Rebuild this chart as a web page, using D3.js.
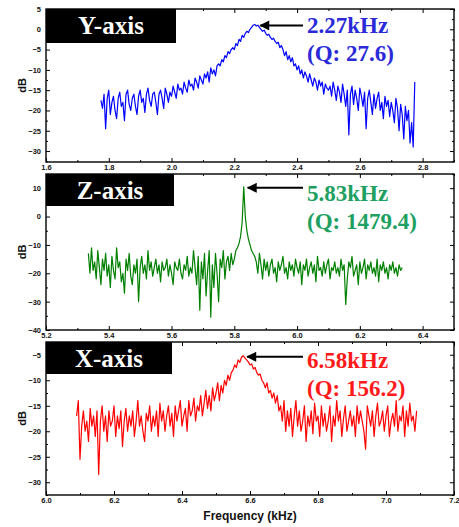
<!DOCTYPE html>
<html>
<head>
<meta charset="utf-8">
<script src="https://cdn.jsdelivr.net/npm/d3@7"></script>
<style>
  html, body { margin: 0; padding: 0; background: #fff; }
  svg { display: block; }
  .tick-label { font-family: "Liberation Sans", Arial, sans-serif; font-weight: bold; font-size: 7.5px; fill: #111; }
  .axis-title { font-family: "Liberation Sans", Arial, sans-serif; font-weight: bold; fill: #111; }
  .serif { font-family: "Liberation Serif", "Times New Roman", serif; font-weight: bold; }
</style>
</head>
<body>
<svg id="chart" width="459" height="527"></svg>
<script>
// ---- Frequency response data (dB), sampled on a uniform frequency grid ----

// Y-axis sweep: 1.775 .. 2.775 kHz
const yAxisFreqRange = [1.775, 2.775];
const yAxisDb = [
  -17.5, -19.5, -16, -24.5, -17, -15, -21, -18, -16.5, -20, -22, -17, -15.5, -19, -18, -22.5, -16, -15, -18.5, -20,
  -17, -16, -19, -21, -16.5, -15, -18, -17, -20.5, -16, -14.5, -17.5, -19, -16, -15.5, -18, -21, -16, -15, -17,
  -19.5, -14.5, -16, -18, -15.5,
  -16.5, -14, -15.5, -17, -13.5, -15, -14.5, -16, -13, -14.5, -15.5, -12.5, -14, -13.5, -15, -12, -13, -14.5, -11.5, -12.5,
  -13.5, -11, -12, -10.5, -13, -9.5, -11, -10, -11.5, -9,
  -8.5, -9, -7.5, -8, -6.5, -7, -5.5, -6, -5, -4.5, -5, -3.5, -4, -2.5, -3, -1.5, -2, -1, -0.5, -0.8, 0, 0.5, 1, 1.2,
  0.8, 1, 0.5, 0, -0.5, -0.2, -1, -1.5, -1.2, -2, -2.5, -2.2, -3, -3.5, -3.2, -4.5, -4,
  -5, -6.5, -5.5, -7.5, -6.5, -8, -7, -9, -8.5, -10, -9, -11, -10, -12, -10.5, -11.5, -13, -11, -12.5, -14,
  -12, -13, -15, -12.5, -14, -13, -16, -13.5, -14.5, -15,
  -14, -16.5, -13, -15, -17.5, -14, -15.5, -18, -13.5, -16, -19, -15, -26, -16, -14, -18.5, -15, -17, -20, -14.5,
  -16.5, -19, -15.5, -24.5, -17, -15, -18, -21, -16, -19.5, -17, -15.5, -20, -18, -22, -16.5, -19, -17.5, -21.5, -18,
  -20, -23, -17, -19.5, -25, -18.5, -21, -27, -19, -22.5, -20, -28, -23, -29, -13
];

// Z-axis sweep: 5.335 .. 6.335 kHz
const zAxisFreqRange = [5.335, 6.335];
const zAxisDb = [
  -13, -20, -11, -19, -16, -22, -12, -18, -24, -15, -19, -13, -21, -17, -25, -14, -19, -22, -11, -18,
  -16, -23, -20, -27, -15, -19, -13, -21, -24, -17, -20, -15, -30,
  -18, -14, -20, -17, -22, -12, -19, -16, -21, -18, -15, -20, -17, -23, -16, -19, -18, -15, -21, -17,
  -20, -24, -16, -18, -19, -15, -20, -22, -17, -19, -14, -21, -18, -20,
  -12, -18, -24, -14, -33, -16, -22, -13, -28, -19, -12, -35.5, -17, -25, -13, -20, -30, -15, -18, -12,
  -22, -16, -14, -19, -13, -17, -15, -12, -11,
  -9.5, -7, -2, 10.5, 0, -5, -8, -10, -12, -13,
  -14, -16, -20, -13, -17, -22, -15, -19, -16, -21, -17, -15, -20, -18, -23, -16, -19, -17, -14, -20,
  -18, -22, -16, -19, -17, -21, -15, -18, -20, -16, -24, -17, -19, -15, -21, -18, -16, -20, -17, -23,
  -14, -19, -18, -21, -16, -20, -17, -15, -22, -18, -19, -16, -20, -18, -21, -15, -19, -17, -31, -22,
  -16, -18, -14, -21, -19, -17, -24, -16, -20, -18, -15, -22, -17, -19, -16, -20, -18, -21, -15, -23,
  -17, -19, -16, -20, -18, -22, -17, -19, -16, -20, -18, -21, -17, -19, -18
];

// X-axis sweep: 6.09 .. 7.09 kHz
const xAxisFreqRange = [6.09, 7.09];
const xAxisDb = [
  -17, -14, -25.5, -19, -16, -20, -18, -22, -15.5, -19, -17, -21, -16, -28.5, -18, -15, -20, -17, -22, -16,
  -19, -18, -15, -21, -17, -19.5, -16, -23, -18, -15.5, -20, -17, -19, -16, -21, -18, -14, -19, -17, -20,
  -22, -16.5,
  -18, -15, -20, -17, -19, -16, -21, -14.5, -18, -16, -20, -17, -15, -19, -16.5, -21, -15, -18, -16, -14,
  -19, -17, -15.5, -20, -14, -17, -16, -13.5, -18, -15,
  -16, -13, -17, -14.5, -12, -15.5, -13, -16, -11.5, -14, -12.5, -10.5, -14, -11, -12.5, -10, -11, -9, -10, -8.5,
  -8, -7, -7.5, -6, -6.5, -5.5, -5.2, -5.6, -6, -6.4,
  -7, -6.8, -7.8, -7.5, -8.5, -9, -8.8, -10, -10.5, -11.5, -10.5, -12.5, -12, -13.5, -12.5, -14.5, -13, -16,
  -15, -18, -14, -20, -16, -19, -15.5, -21, -17, -14, -19, -16, -20, -18, -15, -22, -17, -19, -16, -20.5,
  -14.5, -18, -17, -21, -15, -19, -16.5, -20, -18, -15, -22, -17, -19, -14, -18, -16, -21, -17.5, -15, -20,
  -18, -16, -19, -17, -21, -15, -18.5, -16, -18, -20, -23.5, -15, -17, -19, -16, -21, -17, -14.5, -19, -18,
  -16, -20, -17, -15, -21, -18, -16.5, -19, -14, -20, -17, -18, -15, -21, -16, -19, -14.5, -18, -17, -20, -16
];

// Axis extents and tick values
const yPanelXDomain = [1.6, 2.9], yPanelYDomain = [-32.7, 5];
const zPanelXDomain = [5.2, 6.5], zPanelYDomain = [-40, 15];
const xPanelXDomain = [6.0, 7.2], xPanelYDomain = [-32.5, -2.5];

const yPanelXTicks = [1.6, 1.8, 2.0, 2.2, 2.4, 2.6, 2.8];
const yPanelYTicks = [-30, -25, -20, -15, -10, -5, 0, 5];
const zPanelXTicks = [5.2, 5.4, 5.6, 5.8, 6.0, 6.2, 6.4];
const zPanelYTicks = [-40, -30, -20, -10, 0, 10];
const xPanelXTicks = [6.0, 6.2, 6.4, 6.6, 6.8, 7.0, 7.2];
const xPanelYTicks = [-30, -25, -20, -15, -10, -5];

// Panel titles and resonance annotations
const panelTitles = ["Y-axis", "Z-axis", "X-axis"];
const peakFreqs = [2.27, 5.83, 6.58];
const peakLabels = ["2.27kHz", "5.83kHz", "6.58kHz"];
const qLabels = ["(Q: 27.6)", "(Q: 1479.4)", "(Q: 156.2)"];

// ---- Drawing ----
const svg = d3.select("#chart");
const left = 46, right = 454;

const panels = [
  { range: yAxisFreqRange, db: yAxisDb, xd: yPanelXDomain, yd: yPanelYDomain, xt: yPanelXTicks, yt: yPanelYTicks,
    top: 9, bottom: 162, line: "#0000ff", text: "#2a2ad8", titleW: 130, titleH: 34, minorY: 2.5, textDy: 8 },
  { range: zAxisFreqRange, db: zAxisDb, xd: zPanelXDomain, yd: zPanelYDomain, xt: zPanelXTicks, yt: zPanelYTicks,
    top: 174, bottom: 330, line: "#008000", text: "#20a060", titleW: 128, titleH: 32, minorY: 5, textDy: 13 },
  { range: xAxisFreqRange, db: xAxisDb, xd: xPanelXDomain, yd: xPanelYDomain, xt: xPanelXTicks, yt: xPanelYTicks,
    top: 342, bottom: 495, line: "#ff0000", text: "#ff1a1a", titleW: 126, titleH: 32, minorY: 2.5, textDy: 11 }
];

const defs = svg.append("defs");
defs.append("marker")
  .attr("id", "arrowhead")
  .attr("viewBox", "0 0 10 10")
  .attr("refX", 9).attr("refY", 5)
  .attr("markerUnits", "userSpaceOnUse")
  .attr("markerWidth", 12).attr("markerHeight", 10)
  .attr("orient", "auto")
  .append("path").attr("d", "M0,0 L10,5 L0,10 Z").attr("fill", "#000");

panels.forEach((p, k) => {
  const g = svg.append("g");
  const x = d3.scaleLinear().domain(p.xd).range([left, right]);
  const y = d3.scaleLinear().domain(p.yd).range([p.bottom, p.top]);

  const n = p.db.length;
  const step = (p.range[1] - p.range[0]) / (n - 1);
  const pts = p.db.map((v, i) => [p.range[0] + i * step, v]);

  // Clip the trace to the plot box
  const clipId = "clip" + k;
  defs.append("clipPath").attr("id", clipId)
    .append("rect").attr("x", left).attr("y", p.top).attr("width", right - left).attr("height", p.bottom - p.top);

  g.append("path")
    .datum(pts)
    .attr("clip-path", `url(#${clipId})`)
    .attr("fill", "none")
    .attr("stroke", p.line)
    .attr("stroke-width", 1.2)
    .attr("stroke-linejoin", "round")
    .attr("d", d3.line().x(d => x(d[0])).y(d => y(d[1])));

  // Axes: ticks point inward, mirrored on the top and right edges
  const fmt = d3.format(".1f");
  const minorX = d3.range(p.xd[0], p.xd[1] + 1e-9, 0.1).filter(v => !p.xt.some(t => Math.abs(t - v) < 1e-6));
  const minorY = d3.range(p.yt[0] - p.minorY, p.yd[1] + 1e-9, p.minorY)
    .filter(v => v >= p.yd[0] && !p.yt.some(t => Math.abs(t - v) < 1e-6));

  g.append("g").attr("transform", `translate(0,${p.bottom})`)
    .call(d3.axisBottom(x).tickValues(p.xt).tickSize(-4).tickPadding(3).tickFormat(fmt));
  g.append("g").attr("transform", `translate(${left},0)`)
    .call(d3.axisLeft(y).tickValues(p.yt).tickSize(-4).tickPadding(5).tickFormat(d3.format("d")));
  g.append("g").attr("transform", `translate(0,${p.top})`)
    .call(d3.axisTop(x).tickValues(p.xt).tickSize(-4).tickFormat(""));
  g.append("g").attr("transform", `translate(${right},0)`)
    .call(d3.axisRight(y).tickValues(p.yt).tickSize(-4).tickFormat(""));

  g.append("g").attr("transform", `translate(0,${p.bottom})`)
    .call(d3.axisBottom(x).tickValues(minorX).tickSize(-2).tickFormat(""));
  g.append("g").attr("transform", `translate(${left},0)`)
    .call(d3.axisLeft(y).tickValues(minorY).tickSize(-2).tickFormat(""));
  g.append("g").attr("transform", `translate(0,${p.top})`)
    .call(d3.axisTop(x).tickValues(minorX).tickSize(-2).tickFormat(""));
  g.append("g").attr("transform", `translate(${right},0)`)
    .call(d3.axisRight(y).tickValues(minorY).tickSize(-2).tickFormat(""));

  g.selectAll(".domain").remove();
  g.selectAll(".tick line").attr("stroke", "#000").attr("stroke-width", 1);
  g.selectAll(".tick text").attr("class", "tick-label").attr("fill", "#111");

  // Plot frame
  g.append("rect")
    .attr("x", left).attr("y", p.top)
    .attr("width", right - left).attr("height", p.bottom - p.top)
    .attr("fill", "none").attr("stroke", "#000").attr("stroke-width", 1.4);

  // dB label
  g.append("text")
    .attr("class", "axis-title")
    .attr("transform", `translate(${26},${(p.top + p.bottom) / 2}) rotate(-90)`)
    .attr("text-anchor", "middle")
    .attr("font-size", 11)
    .text("dB");

  // Title box
  g.append("rect")
    .attr("x", left).attr("y", p.top)
    .attr("width", p.titleW).attr("height", p.titleH)
    .attr("fill", "#000");
  g.append("text")
    .attr("class", "serif")
    .attr("x", left + p.titleW / 2).attr("y", p.top + 25)
    .attr("text-anchor", "middle")
    .attr("font-size", 25)
    .attr("fill", "#fff")
    .text(panelTitles[k]);

  // Resonance arrow and label
  const peakIdx = d3.maxIndex(pts, d => d[1]);
  const tipX = x(peakFreqs[k]) + 4;
  const tipY = y(pts[peakIdx][1]) + 1;
  g.append("line")
    .attr("x1", 303).attr("y1", tipY)
    .attr("x2", tipX).attr("y2", tipY)
    .attr("stroke", "#000").attr("stroke-width", 2)
    .attr("marker-end", "url(#arrowhead)");
  g.append("text")
    .attr("class", "serif")
    .attr("x", 307).attr("y", tipY + p.textDy)
    .attr("font-size", 23)
    .attr("fill", p.text)
    .text(peakLabels[k]);
  g.append("text")
    .attr("class", "serif")
    .attr("x", 307).attr("y", tipY + p.textDy + 28)
    .attr("font-size", 23)
    .attr("fill", p.text)
    .text(qLabels[k]);
});

svg.append("text")
  .attr("class", "axis-title")
  .attr("x", (left + right) / 2).attr("y", 520)
  .attr("text-anchor", "middle")
  .attr("font-size", 12)
  .text("Frequency (kHz)");
</script>
</body>
</html>
